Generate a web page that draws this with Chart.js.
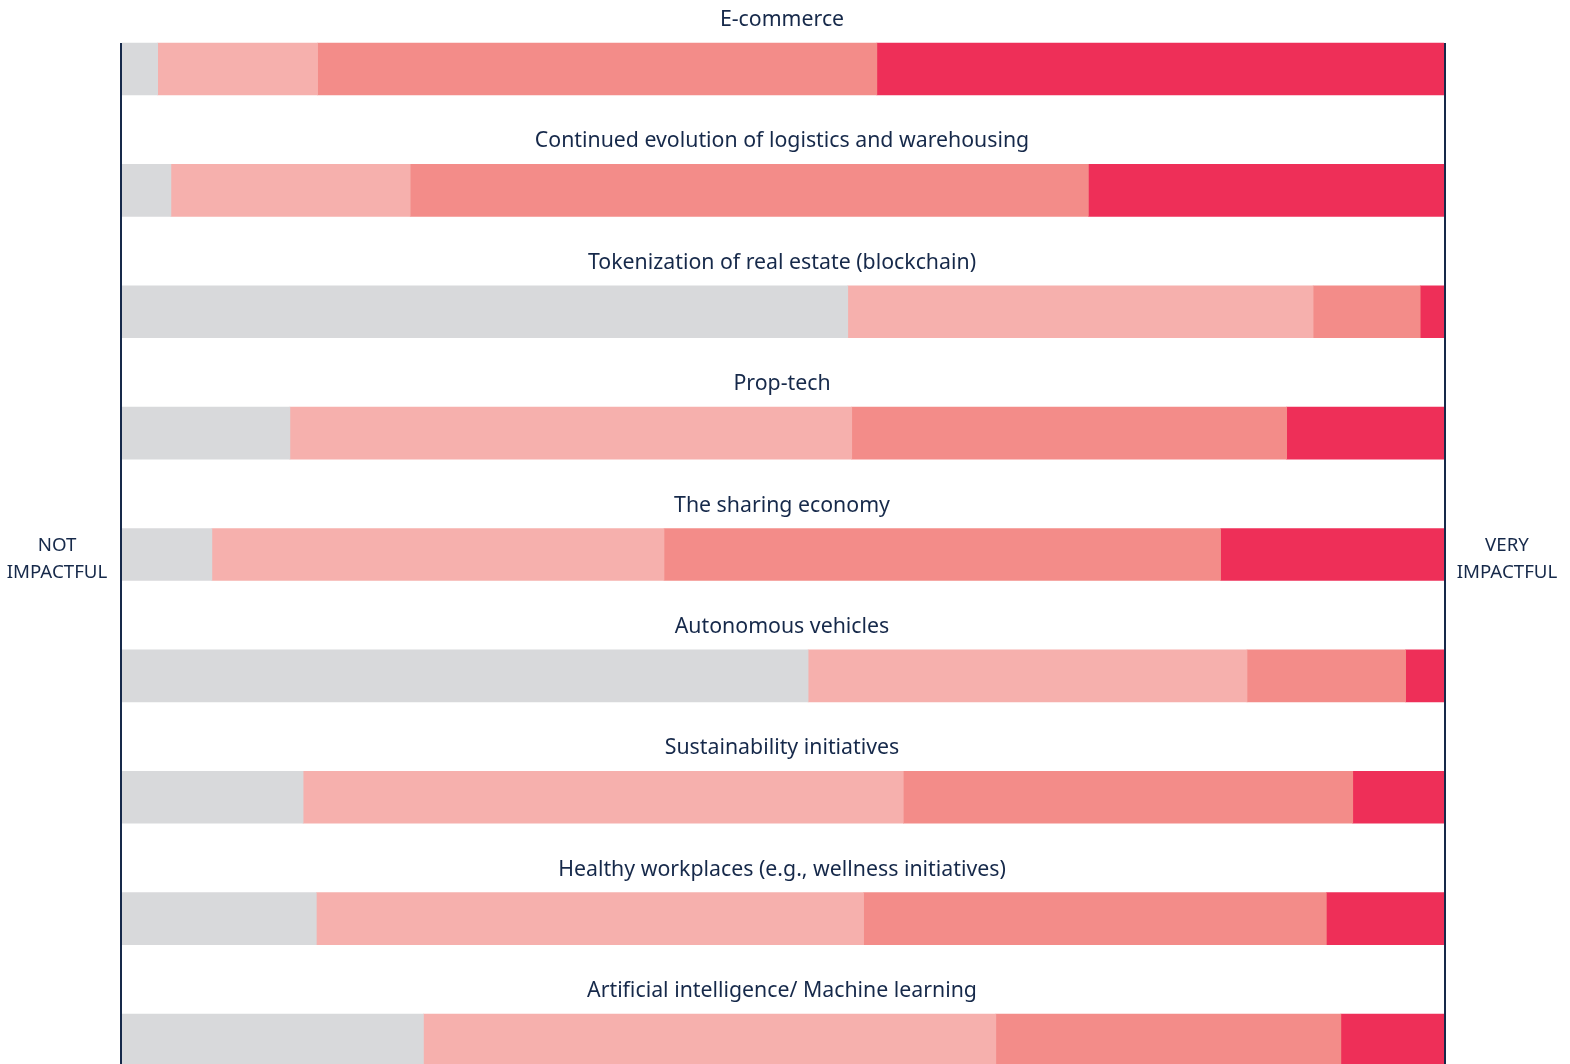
<!DOCTYPE html>
<html>
<head>
<meta charset="utf-8">
<script src="https://cdn.jsdelivr.net/npm/chart.js@4.4.1/dist/chart.umd.min.js"></script>
<style>
  html, body { margin: 0; padding: 0; background: #fff; overflow: hidden; }
  canvas { display: block; }
</style>
</head>
<body>
<canvas id="grafico" width="1570" height="1110"></canvas>
<script>
// categorias (de cima para baixo)
const categories = [
  'E-commerce',
  'Continued evolution of logistics and warehousing',
  'Tokenization of real estate (blockchain)',
  'Prop-tech',
  'The sharing economy',
  'Autonomous vehicles',
  'Sustainability initiatives',
  'Healthy workplaces (e.g., wellness initiatives)',
  'Artificial intelligence/ Machine learning'
];

// percentuais de respostas
const notImpactful      = [2.7,  3.7, 54.9, 12.7,  6.8, 51.9, 13.7, 14.7, 22.8];
const somewhatImpactful = [12.1, 18.1, 35.2, 42.5, 34.2, 33.2, 45.4, 41.4, 43.3];
const impactful         = [42.3, 51.3,  8.1, 32.9, 42.1, 12.0, 34.0, 35.0, 26.1];
const veryImpactful     = [42.9, 26.9,  1.8, 11.9, 16.9,  2.9,  6.9,  8.9,  7.8];

const seriesNames = ['Not impactful', 'Somewhat impactful', 'Impactful', 'Very impactful'];
const sideLabels = { left: ['NOT', 'IMPACTFUL'], right: ['VERY', 'IMPACTFUL'] };

const navy = '#16294a';
const fontFamily = '"Noto Sans", "Open Sans", sans-serif';

// titulos acima de cada barra + linhas verticais + rotulos laterais
const decoracao = {
  id: 'decoracao',
  afterDatasetsDraw(chart) {
    const ctx = chart.ctx;
    const area = chart.chartArea;
    const bars = chart.getDatasetMeta(0).data;
    const centerX = (area.left + area.right) / 2 - 1;

    ctx.save();
    ctx.fillStyle = navy;
    ctx.font = '21.3px ' + fontFamily;
    ctx.textAlign = 'center';
    ctx.textBaseline = 'middle';
    bars.forEach((bar, i) => {
      const top = bar.y - bar.height / 2;
      ctx.fillText(categories[i], centerX, top - 23);
    });

    // linhas verticais
    const firstTop = bars[0].y - bars[0].height / 2;
    ctx.strokeStyle = navy;
    ctx.lineWidth = 2;
    ctx.beginPath();
    ctx.moveTo(area.left - 1, firstTop);
    ctx.lineTo(area.left - 1, chart.height);
    ctx.moveTo(area.right + 1, firstTop);
    ctx.lineTo(area.right + 1, chart.height);
    ctx.stroke();

    // rotulos laterais
    ctx.font = '18.7px ' + fontFamily;
    const midY = 559.5;
    sideLabels.left.forEach((t, k) => ctx.fillText(t, 57, midY - 13.5 + k * 27));
    sideLabels.right.forEach((t, k) => ctx.fillText(t, 1507, midY - 13.5 + k * 27));
    ctx.restore();
  }
};

const ctx = document.getElementById('grafico');

let grafico = new Chart(ctx, {
  type: 'bar',
  data: {
    labels: categories,
    datasets: [
      { label: seriesNames[0], data: notImpactful,      backgroundColor: '#d8d9db' },
      { label: seriesNames[1], data: somewhatImpactful, backgroundColor: '#f6b0ad' },
      { label: seriesNames[2], data: impactful,         backgroundColor: '#f38c89' },
      { label: seriesNames[3], data: veryImpactful,     backgroundColor: '#ee2f58' }
    ]
  },
  options: {
    indexAxis: 'y',
    responsive: false,
    animation: false,
    devicePixelRatio: 1,
    datasets: {
      bar: { barThickness: 52, borderWidth: 0 }
    },
    layout: {
      padding: { left: 122, right: 126, top: 8.3, bottom: 9.3 }
    },
    scales: {
      x: { stacked: true, min: 0, max: 100, display: false },
      y: { stacked: true, display: false }
    },
    plugins: {
      legend: { display: false },
      tooltip: { enabled: false }
    }
  },
  plugins: [decoracao]
});
</script>
</body>
</html>
